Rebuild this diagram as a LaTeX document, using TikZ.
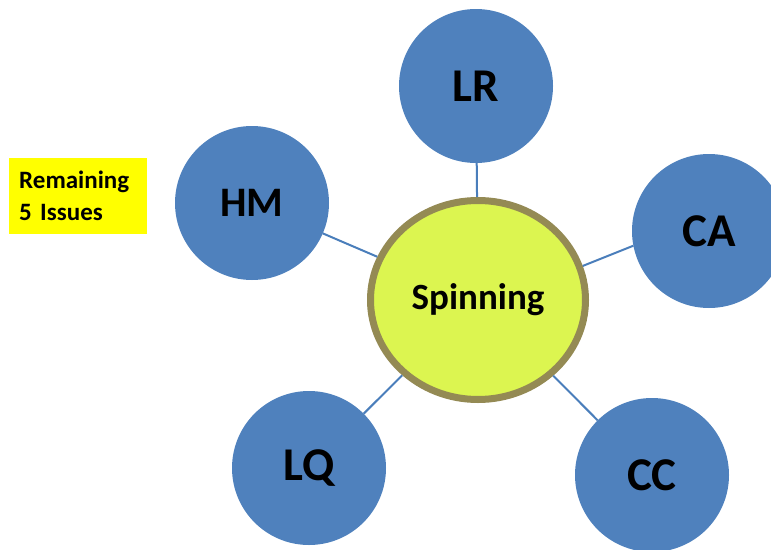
\documentclass[tikz,border=0pt]{standalone}
\usepackage{fontspec}
\setmainfont{Carlito}
\usetikzlibrary{shapes.geometric}
\definecolor{nodeblue}{HTML}{4F81BD}
\definecolor{linkblue}{HTML}{4A7EBB}
\definecolor{limefill}{HTML}{DCF550}
\definecolor{olivering}{HTML}{948A54}
\definecolor{notefill}{HTML}{FFFF00}
\begin{document}
\begin{tikzpicture}[x=1pt,y=-1pt,
  sat/.style={circle, fill=nodeblue, minimum size=154pt, inner sep=0pt, outer sep=0pt,
    font=\fontsize{47}{47}\selectfont\bfseries},
  hub/.style={ellipse, fill=limefill, draw=olivering, line width=7pt, minimum width=215pt,
    minimum height=199pt, inner sep=0pt, font=\fontsize{37}{37}\selectfont\bfseries},
  link/.style={draw=linkblue, line width=2pt},
  note/.style={fill=notefill, anchor=north west, minimum width=138pt, minimum height=76pt,
    text width=118pt, inner xsep=10pt, inner ysep=0pt, align=left,
    font=\fontsize{25}{32}\selectfont\bfseries}
]
\useasboundingbox (0,0) rectangle (771,549);
\clip (0,0) rectangle (771,549);
\node[hub] (hub) at (478,300) {Spinning};
\node[sat] (LR) at (476,86) {LR};
\node[sat, font=\fontsize{42}{42}\selectfont\bfseries] (HM) at (252,203) {HM};
\node[sat] (CA) at (709,231) {CA};
\node[sat] (LQ) at (309,468) {LQ};
\node[sat] (CC) at (652,475) {CC};
\node[note] (note) at (9,158) {Remaining\\5 Issues};
\draw[link] (hub) -- (LR);
\draw[link] (hub) -- (HM);
\draw[link] (hub.18.6) -- (CA.191);
\draw[link] (hub) -- (LQ);
\draw[link] (hub) -- (CC);
\end{tikzpicture}
\end{document}
